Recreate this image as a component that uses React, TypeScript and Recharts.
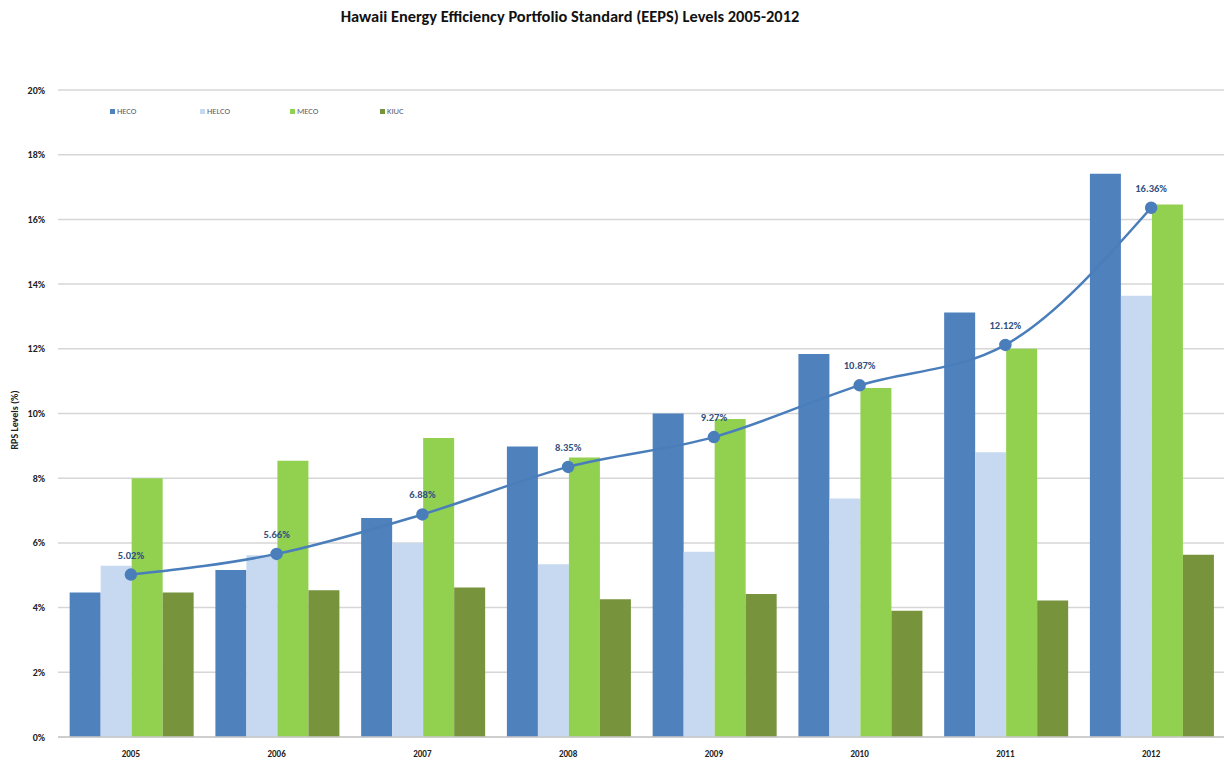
import { ComposedChart, Bar, Line, XAxis, YAxis, CartesianGrid, LabelList } from 'recharts';

// EEPS levels by utility, percent
const years = ['2005', '2006', '2007', '2008', '2009', '2010', '2011', '2012'];
const heco = [4.47, 5.16, 6.77, 8.98, 10.0, 11.84, 13.12, 17.41];
const helco = [5.29, 5.62, 6.0, 5.34, 5.73, 7.37, 8.8, 13.64];
const meco = [8.0, 8.54, 9.24, 8.64, 9.83, 10.79, 12.0, 16.46];
const kiuc = [4.47, 4.54, 4.62, 4.26, 4.42, 3.9, 4.22, 5.63];
const statewide = [5.02, 5.66, 6.88, 8.35, 9.27, 10.87, 12.12, 16.36];
const yTicks = [0, 2, 4, 6, 8, 10, 12, 14, 16, 18, 20];

const seriesNames = ['HECO', 'HELCO', 'MECO', 'KIUC'];
const seriesColors = ['#4f81bd', '#c6d9f1', '#92d050', '#77933c'];

const data = years.map((year, i) => ({
    year,
    HECO: heco[i],
    HELCO: helco[i],
    MECO: meco[i],
    KIUC: kiuc[i],
    total: statewide[i],
}));

const font = 'Calibri, Carlito, "Open Sans", sans-serif';

const App = () => {
    return (
        <div style={{ position: 'absolute', left: 0, top: 0, width: 1230, height: 764, background: '#fff', fontFamily: font }}>
            {/* Title */}
            <div
                style={{
                    position: 'absolute',
                    top: 6,
                    left: 0,
                    width: 1140,
                    textAlign: 'center',
                    fontSize: 16.4,
                    fontWeight: 700,
                    color: '#111',
                }}
            >
                Hawaii Energy Efficiency Portfolio Standard (EEPS) Levels 2005-2012
            </div>

            {/* Y axis title */}
            <svg style={{ position: 'absolute', left: 0, top: 0 }} width={30} height={764}>
                <text
                    x={18}
                    y={420}
                    transform="rotate(-90 18 420)"
                    textAnchor="middle"
                    fontSize={10}
                    fontWeight={700}
                    fill="#222"
                    fontFamily={font}
                >
                    RPS Levels (%)
                </text>
            </svg>

            {/* Legend */}
            <div style={{ position: 'absolute', top: 106, left: 110, display: 'flex', zIndex: 2 }}>
                {seriesNames.map((name, i) => (
                    <div key={name} style={{ width: 90, display: 'flex', alignItems: 'center', fontSize: 8.5, color: '#5a5a6a' }}>
                        <span style={{ width: 5, height: 5, background: seriesColors[i], marginRight: 2 }} />
                        {name}
                    </div>
                ))}
            </div>

            <ComposedChart
                width={1230}
                height={764}
                data={data}
                margin={{ top: 90, right: 6, bottom: 0, left: 0 }}
                barCategoryGap="8%"
                barGap={0}
            >
                <CartesianGrid vertical={false} stroke="#d6d6d6" strokeWidth={1.5} />
                <XAxis
                    dataKey="year"
                    height={27}
                    tickLine={false}
                    axisLine={{ stroke: '#c8c8c8', strokeWidth: 1.5 }}
                    tick={{ fontSize: 9, fontWeight: 700, fill: '#222', fontFamily: font }}
                    tickMargin={8}
                />
                <YAxis
                    width={58}
                    domain={[0, 20]}
                    ticks={yTicks}
                    interval={0}
                    tickFormatter={(v) => `${v}%`}
                    axisLine={false}
                    tickLine={false}
                    tick={{ fontSize: 10, fontWeight: 700, fill: '#222', fontFamily: font }}
                    tickMargin={7}
                />
                {seriesNames.map((name, i) => (
                    <Bar key={name} dataKey={name} fill={seriesColors[i]} isAnimationActive={false} />
                ))}
                <Line
                    type="monotone"
                    dataKey="total"
                    stroke="#4a7ebb"
                    strokeWidth={2.5}
                    dot={{ r: 5, fill: '#4a7ebb', stroke: '#4a7ebb' }}
                    isAnimationActive={false}
                >
                    <LabelList
                        dataKey="total"
                        position="top"
                        offset={16}
                        formatter={(v: any) => `${v.toFixed(2)}%`}
                        style={{ fontSize: 10.5, fontWeight: 700, fill: '#2f4f7f', fontFamily: font }}
                    />
                </Line>
            </ComposedChart>
        </div>
    );
};

export default App;
